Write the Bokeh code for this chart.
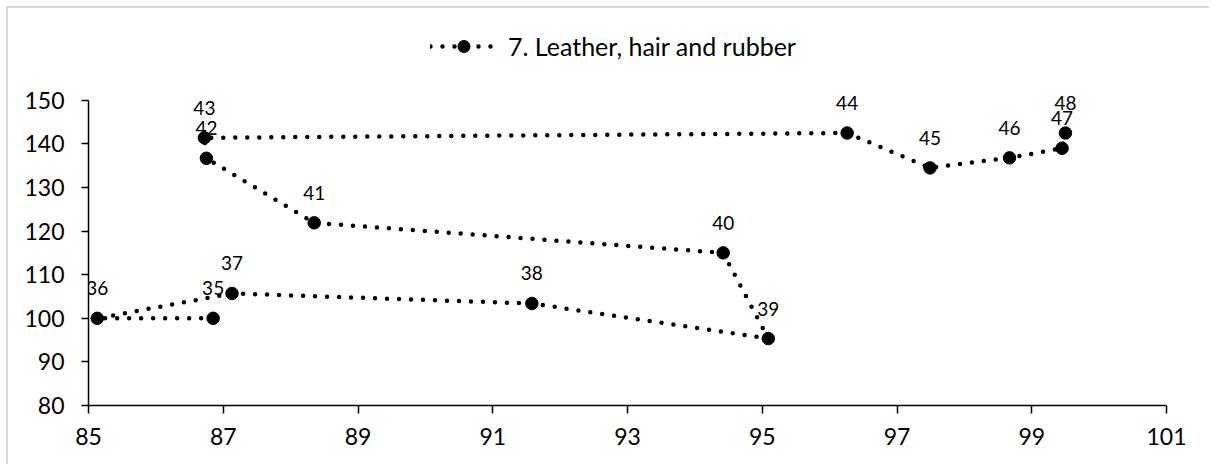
from bokeh.plotting import figure
from bokeh.models import Range1d, FixedTicker, Legend, LegendItem, ColumnDataSource
from bokeh.core.properties import value
from bokeh.embed import file_html
from bokeh.resources import INLINE

# Data
labels = ["35", "36", "37", "38", "39", "40", "41", "42", "43", "44", "45", "46", "47", "48"]
x_vals = [86.85, 85.13, 87.13, 91.58, 95.09, 94.42, 88.35, 86.75, 86.72, 96.26, 97.49, 98.67, 99.45, 99.50]
y_vals = [100.0, 100.0, 105.7, 103.4, 95.35, 115.0, 121.9, 136.7, 141.4, 142.5, 134.5, 136.8, 139.0, 142.5]
series_name = "7. Leather, hair and rubber"
x_ticks = [85, 87, 89, 91, 93, 95, 97, 99, 101]
y_ticks = [80, 90, 100, 110, 120, 130, 140, 150]

FONT = "Lato"

src = ColumnDataSource(dict(x=x_vals, y=y_vals, lab=labels))

# frame: 1078 x 387 px; 4.36 px per y unit -> top of range above 150 leaves room for legend
FRAME_H = 387
y_top = 80 + FRAME_H / 4.36

p = figure(width=1203, height=458, output_backend="svg", toolbar_location=None,
           x_range=Range1d(85, 101), y_range=Range1d(80, y_top),
           min_border_left=80, min_border_right=45, min_border_top=10, min_border_bottom=61)
p.background_fill_color = "white"
p.border_fill_color = "white"
p.outline_line_color = None
p.xgrid.visible = False
p.ygrid.visible = False
p.styles = {"margin-left": "6px", "margin-top": "6px",
            "border-left": "2px solid #d9d9d9", "border-top": "2px solid #d9d9d9"}

line_r = p.line("x", "y", source=src, line_color="black", line_width=4.5,
                line_dash="0 12", line_cap="round")
pts_r = p.scatter("x", "y", source=src, size=12.5, fill_color="black", line_color="black")
p.text("x", "y", text="lab", source=src, text_align="center", text_baseline="middle",
       y_offset=-30, text_font=value(FONT), text_font_size="19px", text_color="black")

for ax in (p.xaxis[0], p.yaxis[0]):
    ax.axis_line_color = "black"
    ax.axis_line_width = 1.5
    ax.major_tick_line_color = "black"
    ax.major_tick_line_width = 1.5
    ax.major_tick_in = 0
    ax.minor_tick_line_color = None
    ax.major_label_text_font = FONT
    ax.major_label_text_font_size = "23px"
    ax.major_label_text_color = "black"

p.yaxis.bounds = (80, 150)
p.xaxis.ticker = FixedTicker(ticks=x_ticks)
p.yaxis.ticker = FixedTicker(ticks=y_ticks)
p.xaxis.major_tick_out = 8
p.yaxis.major_tick_out = 7
p.xaxis.major_label_standoff = 14
p.yaxis.major_label_standoff = 17

legend = Legend(items=[LegendItem(label=series_name, renderers=[line_r, pts_r])],
                location=(342, 344), orientation="horizontal",
                glyph_width=67, glyph_height=30, label_standoff=11, padding=0, margin=0,
                border_line_color=None, background_fill_alpha=0,
                label_text_font=FONT, label_text_font_size="25px", label_text_color="black")
p.add_layout(legend, "center")

open("out.html", "w").write(file_html(p, INLINE))
